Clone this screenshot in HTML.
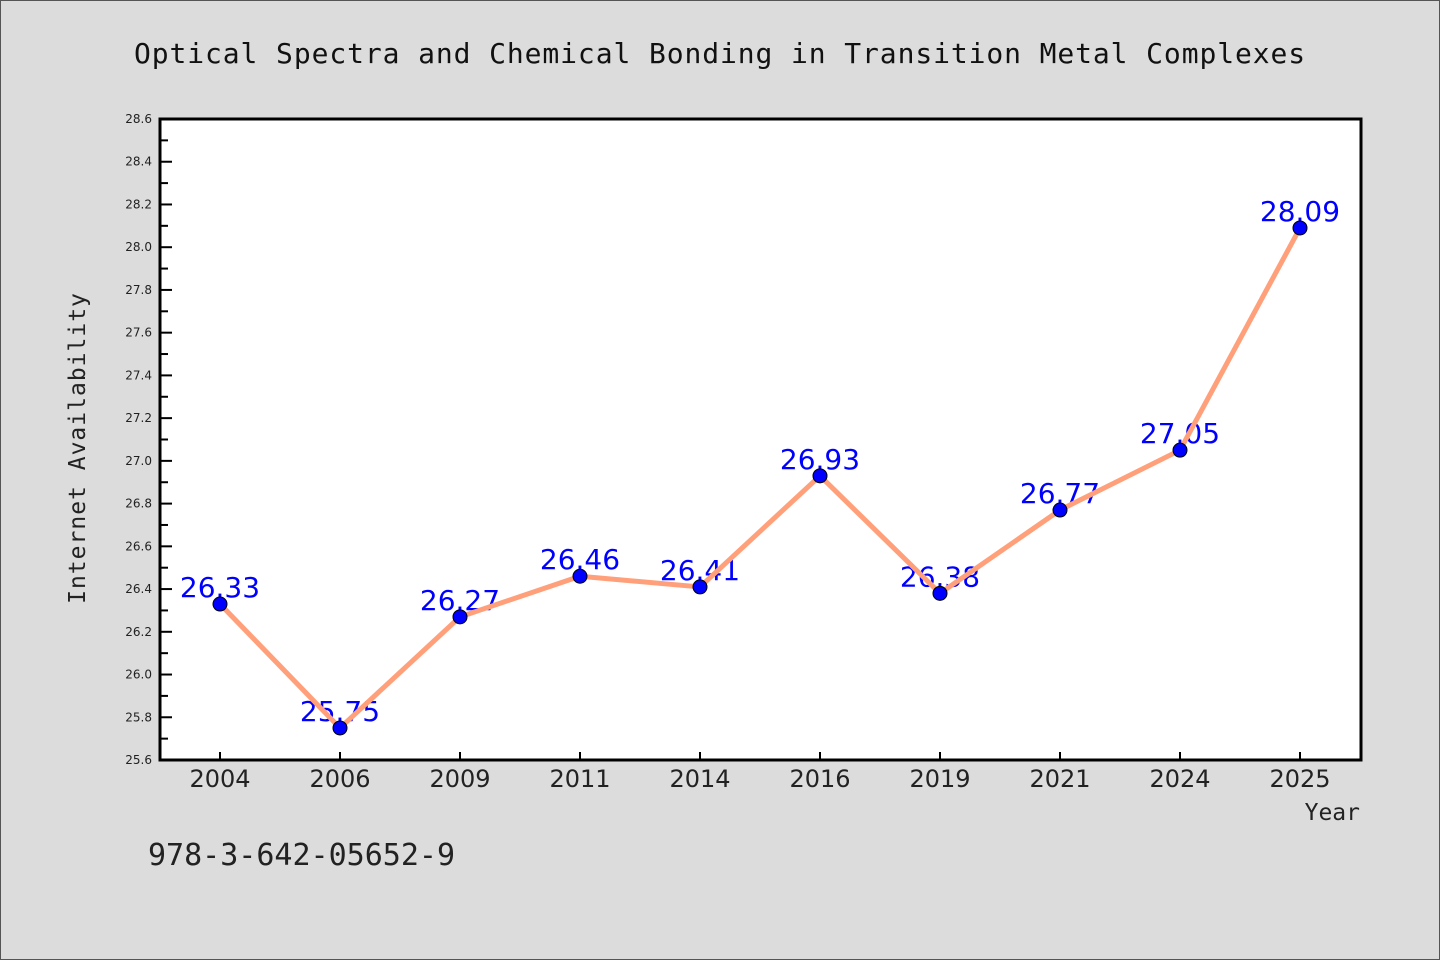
<!DOCTYPE html>
<html><head><meta charset="utf-8"><style>
body{margin:0;background:#dcdcdc}
svg{display:block}
</style></head><body>
<svg id="chart" width="1440" height="960" xmlns="http://www.w3.org/2000/svg">
<rect x="0.5" y="0.5" width="1439" height="959" fill="#dcdcdc" stroke="#555" stroke-width="1"/>
<text x="720" y="63" text-anchor="middle" font-family="'DejaVu Sans Mono','Liberation Mono',monospace" font-size="28" fill="#111" letter-spacing="0.9">Optical Spectra and Chemical Bonding in Transition Metal Complexes</text>
<rect x="160" y="119" width="1201" height="641" fill="#fff"/>
<g id="yaxis"></g>
<g id="xaxis"></g>
<g id="series"></g>
<rect x="160" y="119" width="1201" height="641" fill="none" stroke="#000" stroke-width="3"/>
<text transform="translate(85,448) rotate(-90)" text-anchor="middle" font-family="'DejaVu Sans Mono','Liberation Mono',monospace" font-size="23" fill="#222" letter-spacing="1">Internet Availability</text>
<text x="1360" y="820" text-anchor="end" font-family="'DejaVu Sans Mono','Liberation Mono',monospace" font-size="23" fill="#222">Year</text>
<text x="148" y="865" font-family="'DejaVu Sans Mono','Liberation Mono',monospace" font-size="30" fill="#222">978-3-642-05652-9</text>
</svg>
<script>
const categories=["2004","2006","2009","2011","2014","2016","2019","2021","2024","2025"];
const values=[26.33,25.75,26.27,26.46,26.41,26.93,26.38,26.77,27.05,28.09];
const yTicks=[25.6,25.8,26.0,26.2,26.4,26.6,26.8,27.0,27.2,27.4,27.6,27.8,28.0,28.2,28.4,28.6];
const NS="http://www.w3.org/2000/svg";
const x0=160,x1=1361,y0=119,y1=760,yMin=25.6,yMax=28.6;
function xs(i){return 220+i*(1300-220)/(categories.length-1);}
function ys(v){return y1-(v-yMin)/(yMax-yMin)*(y1-y0);}
function mk(t,a,p){const e=document.createElementNS(NS,t);for(const k in a)e.setAttribute(k,a[k]);p.appendChild(e);return e;}
const ya=document.getElementById('yaxis'),xa=document.getElementById('xaxis'),sg=document.getElementById('series');
yTicks.forEach((v,i)=>{
 const y=ys(v);
 const t=mk('line',{x1:x0,x2:x0+12,y1:y,y2:y,stroke:'#000','stroke-width':2},ya);
 
 
 if(i<yTicks.length-1){const m=mk('line',{x1:x0,x2:x0+8,y1:ys(v+0.1),y2:ys(v+0.1),stroke:'#000','stroke-width':2},ya);
 
 }
 const l=mk('text',{x:152,y:y+4,'text-anchor':'end','font-family':"'DejaVu Sans','Liberation Sans',sans-serif",'font-size':12,fill:'#222'},ya);
 l.textContent=v.toFixed(1);
 
 
});
categories.forEach((c,i)=>{
 const x=xs(i);
 const t=mk('line',{x1:x,x2:x,y1:y1,y2:y1-8,stroke:'#000','stroke-width':2},xa);
 
 
 const l=mk('text',{x:x,y:787,'text-anchor':'middle','font-family':"'DejaVu Sans','Liberation Sans',sans-serif",'font-size':24,fill:'#222'},xa);
 l.textContent=c;
 
 
});
values.forEach((v,i)=>{
 const l=mk('text',{x:xs(i),y:ys(v)-7,'text-anchor':'middle','font-family':"'DejaVu Sans','Liberation Sans',sans-serif",'font-size':28,fill:'#0000ff'},sg);
 l.textContent=v.toFixed(2);
 
 
});
const line=mk('polyline',{points:values.map((v,i)=>xs(i)+','+ys(v)).join(' '),fill:'none',stroke:'#ffa07a','stroke-width':5,'stroke-linejoin':'round'},sg);


values.forEach((v,i)=>{
 const c=mk('circle',{cx:xs(i),cy:ys(v),r:7,fill:'#0000ff',stroke:'#000','stroke-width':1},sg);
 
 
});
</script>
</body></html>
